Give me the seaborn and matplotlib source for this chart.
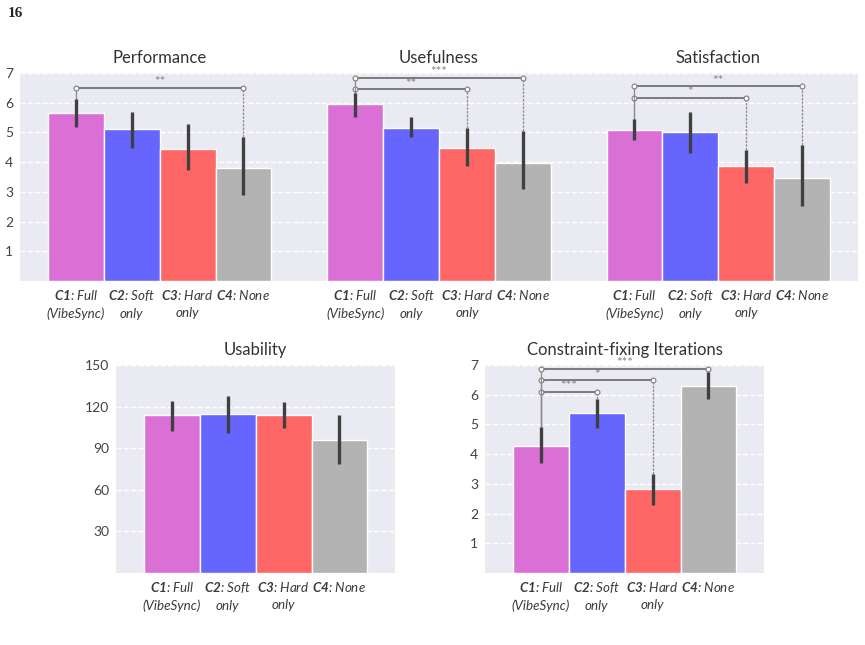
import numpy as np
import pandas as pd
import seaborn as sns
import matplotlib.pyplot as plt

sns.set_style("darkgrid", {"grid.linestyle": "--"})
plt.rcParams["font.family"] = ["Lato", "DejaVu Sans"]
plt.rcParams["mathtext.fontset"] = "custom"
plt.rcParams["mathtext.bf"] = "Lato:italic:bold"
plt.rcParams["mathtext.rm"] = "Lato:italic"
plt.rcParams["mathtext.it"] = "Lato:italic"

conditions = ["C1", "C2", "C3", "C4"]
tick_labels = [
    "$\\mathbf{C1}$: Full\n(VibeSync)",
    "$\\mathbf{C2}$: Soft\nonly",
    "$\\mathbf{C3}$: Hard\nonly",
    "$\\mathbf{C4}$: None",
]
colors = ["#DA70D6", "#6666FF", "#FF6666", "#B3B3B3"]

# means and confidence intervals (low, high) per condition
perf_mean = [5.65, 5.10, 4.44, 3.81]
perf_lo = [5.18, 4.47, 3.73, 2.88]
perf_hi = [6.14, 5.69, 5.28, 4.83]
perf_sig = [(0, 3, 6.51, "**")]

useful_mean = [5.94, 5.15, 4.48, 3.98]
useful_lo = [5.51, 4.85, 3.88, 3.09]
useful_hi = [6.34, 5.52, 5.14, 5.06]
useful_sig = [(0, 2, 6.45, "**"), (0, 3, 6.83, "***")]

satis_mean = [5.08, 5.00, 3.87, 3.47]
satis_lo = [4.76, 4.32, 3.31, 2.53]
satis_hi = [5.45, 5.68, 4.41, 4.57]
satis_sig = [(0, 2, 6.17, "*"), (0, 3, 6.55, "**")]

usab_mean = [113.6, 114.8, 113.6, 96.2]
usab_lo = [102.6, 101.2, 104.5, 78.8]
usab_hi = [124.3, 127.6, 123.6, 113.8]

iter_mean = [4.29, 5.39, 2.82, 6.31]
iter_lo = [3.70, 4.87, 2.29, 5.85]
iter_hi = [4.90, 5.84, 3.34, 6.76]
iter_sig = [(0, 1, 6.10, "***"), (0, 2, 6.48, "*"), (0, 3, 6.88, "***")]

W, H = 865, 645
fig = plt.figure(figsize=(W / 100, H / 100), dpi=100)


def px_axes(x0, y0, w, h):
    return fig.add_axes([x0 / W, (H - y0 - h) / H, w / W, h / H])


aw, ah = 279.3, 208
ax_perf = px_axes(20, 73, aw, ah)
ax_use = px_axes(20 + aw, 73, aw, ah)
ax_sat = px_axes(20 + 2 * aw, 73, aw, ah)
ax_usab = px_axes(116, 365, aw, ah)
ax_iter = px_axes(485, 365, aw, ah)


def draw(ax, title, mean, lo, hi, sig, ylim, yticks, show_y=True):
    df = pd.DataFrame({"cond": conditions, "mean": mean})
    sns.barplot(data=df, x="cond", y="mean", hue="cond", palette=colors, saturation=1,
                width=1.0, edgecolor="white", linewidth=1, legend=False, ax=ax)
    m = np.array(mean)
    ax.errorbar(np.arange(4), m, yerr=[m - np.array(lo), np.array(hi) - m],
                fmt="none", ecolor="#404040", elinewidth=2.4, capsize=0, zorder=5)
    for i, j, h, stars in sig:
        ax.plot([i, i], [hi[i], h], color="#8a8a8a", lw=0.9, zorder=4)
        ax.plot([j, j], [hi[j], h], color="#8a8a8a", lw=0.9, ls=(0, (2, 1)), zorder=4)
        ax.plot([i, j], [h, h], color="#7a7a7a", lw=1.4, zorder=4,
                marker="o", ms=3.5, mfc="white", mec="#7a7a7a", mew=0.8)
        ax.annotate(stars, ((i + j) / 2, h), xytext=(0, 4), textcoords="offset points",
                    ha="center", va="center", fontsize=9.5, color="#858585",
                    annotation_clip=False)
    ax.set_xlim(-1.0, 4.0)
    ax.set_ylim(*ylim)
    ax.set_yticks(yticks)
    ax.grid(axis="x", visible=False)
    ax.grid(axis="y", color="white", lw=1.0, ls="--")
    for s in ax.spines.values():
        s.set_visible(False)
    ax.set_xlabel("")
    ax.set_ylabel("")
    ax.set_xticks(range(4))
    ax.set_xticklabels(tick_labels, fontsize=9.6, fontstyle="italic", color="#3a3a3a",
                       linespacing=1.5)
    ax.tick_params(axis="x", length=0, pad=5)
    ax.tick_params(axis="y", length=0, pad=5, labelsize=10, labelcolor="#444444")
    if not show_y:
        ax.tick_params(axis="y", labelleft=False)
    ax.set_title(title, fontsize=12, color="#333333", pad=7)


draw(ax_perf, "Performance", perf_mean, perf_lo, perf_hi, perf_sig, (0, 7), range(1, 8))
draw(ax_use, "Usefulness", useful_mean, useful_lo, useful_hi, useful_sig, (0, 7), range(1, 8), False)
draw(ax_sat, "Satisfaction", satis_mean, satis_lo, satis_hi, satis_sig, (0, 7), range(1, 8), False)
draw(ax_usab, "Usability", usab_mean, usab_lo, usab_hi, [], (0, 150), range(30, 151, 30))
draw(ax_iter, "Constraint-fixing Iterations", iter_mean, iter_lo, iter_hi, iter_sig, (0, 7), range(1, 8))

fig.text(8 / W, 1 - 7 / H, "16", family=["Liberation Serif", "DejaVu Serif"],
         fontweight="bold", fontsize=11, va="top", ha="left")

fig.savefig("out.png", dpi=100)
